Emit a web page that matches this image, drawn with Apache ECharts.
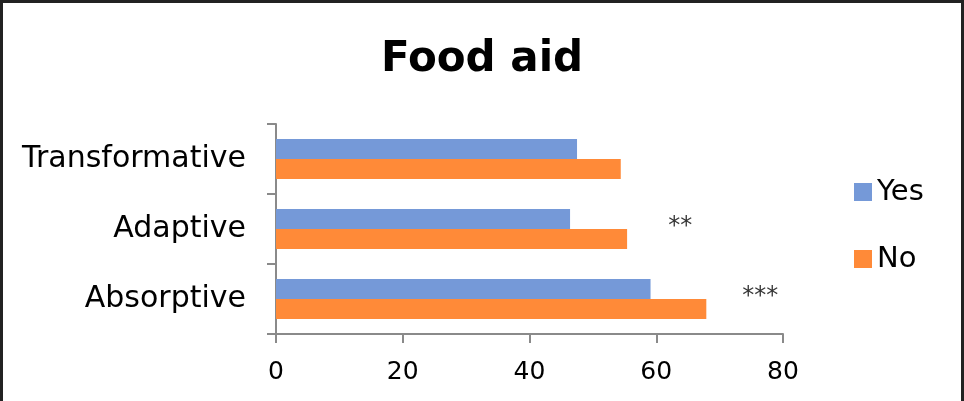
<!DOCTYPE html>
<html>
<head>
<meta charset="utf-8">
<script src="https://cdn.jsdelivr.net/npm/echarts@6/dist/echarts.min.js"></script>
<style>
  html, body { margin: 0; padding: 0; background: #fff; }
  #frame { position: absolute; left: 0; top: 0; width: 958px; height: 420px; border: 3px solid #222; }
  #chart { position: absolute; left: 0; top: 0; width: 964px; height: 401px; }
</style>
</head>
<body>
<div id="frame"></div>
<div id="chart"></div>
<script>
// 数据
const categories = ['Absorptive', 'Adaptive', 'Transformative']
const yesValues = [59.1, 46.4, 47.5]
const noValues = [67.9, 55.4, 54.4]
// 显著性标记
const starMarks = ['***', '**']
const starPos = [[76.4, 'Absorptive'], [63.8, 'Adaptive']]
const xTicks = [0, 20, 40, 60, 80]

const font = 'DejaVu Sans'
const myChart = echarts.init(document.getElementById('chart'))
const option = {
  animation: false,
  title: {
    text: 'Food aid',
    left: 'center',
    top: 34,
    textStyle: { fontFamily: font, fontSize: 42, fontWeight: 'bold', color: '#000' }
  },
  legend: {
    data: ['Yes', 'No'],
    orient: 'vertical',
    left: 849,
    top: 171,
    itemWidth: 18,
    itemHeight: 18,
    itemGap: 35,
    icon: 'rect',
    textStyle: { fontFamily: font, fontSize: 29, color: '#000', lineHeight: 32 }
  },
  grid: { left: 276, right: 181, top: 124, bottom: 67 },
  xAxis: {
    type: 'value',
    min: xTicks[0],
    max: xTicks[xTicks.length - 1],
    interval: 20,
    splitLine: { show: false },
    axisLine: { show: true, lineStyle: { color: '#8a8a8a', width: 2 } },
    axisTick: { show: true, length: 9, lineStyle: { color: '#8a8a8a', width: 2 } },
    axisLabel: { fontFamily: font, fontSize: 25, color: '#000', margin: 26 }
  },
  yAxis: {
    type: 'category',
    data: categories,
    axisLine: { lineStyle: { color: '#8a8a8a', width: 2 } },
    axisTick: { show: true, length: 9, lineStyle: { color: '#8a8a8a', width: 2 } },
    axisLabel: { fontFamily: font, fontSize: 30, color: '#000', margin: 30 }
  },
  series: [
    {
      name: 'Yes',
      type: 'bar',
      data: yesValues,
      barWidth: 20,
      barGap: '0%',
      itemStyle: { color: '#7599D8' }
    },
    {
      name: 'No',
      type: 'bar',
      data: noValues,
      barWidth: 20,
      barGap: '0%',
      itemStyle: { color: '#FF8A38' }
    },
    {
      name: 'stars',
      type: 'scatter',
      symbolSize: 0,
      data: starPos.map((p, i) => ({ value: p, name: starMarks[i] })),
      label: {
        show: true,
        position: 'inside',
        formatter: p => p.name,
        fontFamily: font,
        fontSize: 24,
        color: '#000',
        offset: [0, -2]
      }
    }
  ]
}
myChart.setOption(option)
</script>
</body>
</html>
